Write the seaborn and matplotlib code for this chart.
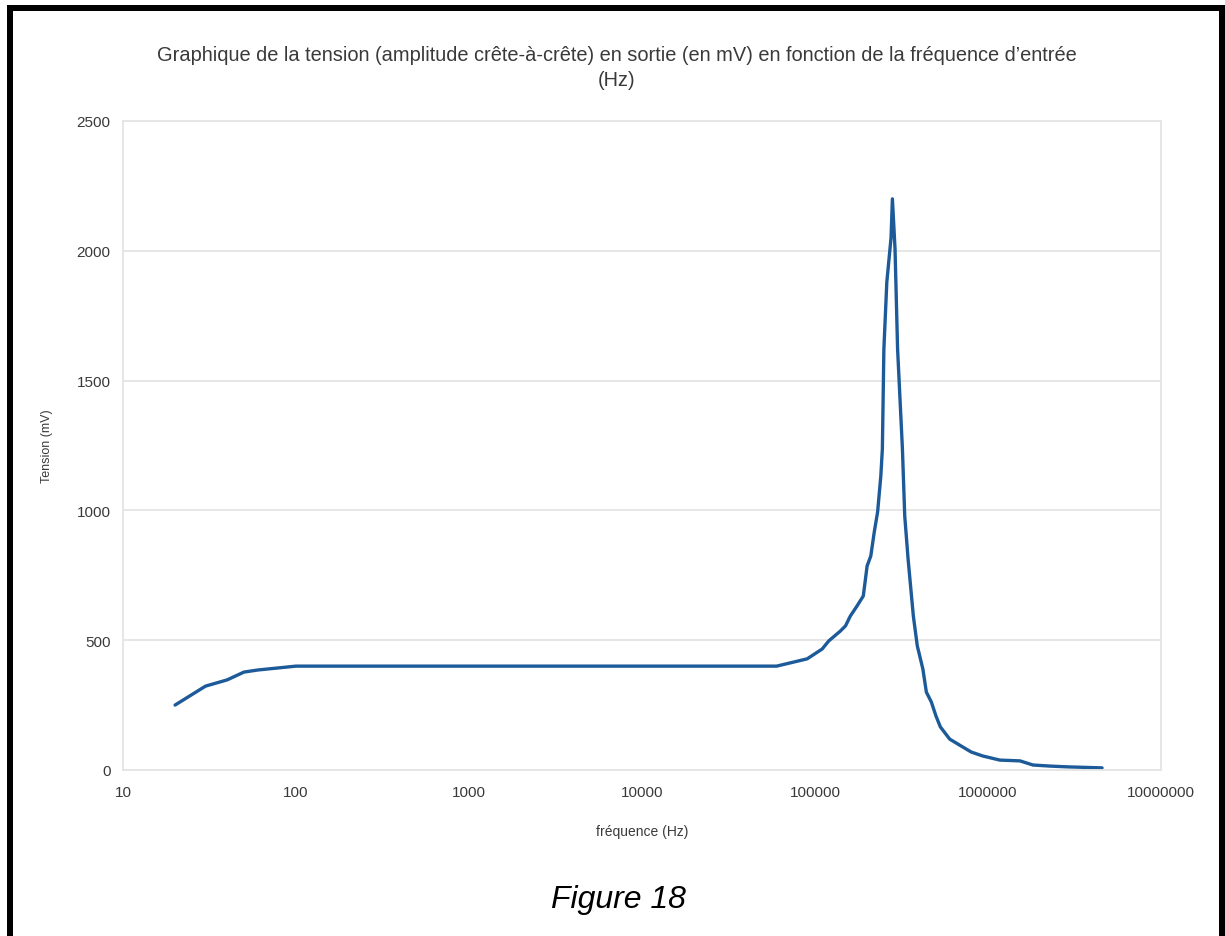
import matplotlib.pyplot as plt
import matplotlib.patches as mpatches
import seaborn as sns
import pandas as pd

frequence = [20, 30, 40, 50, 60, 100, 200, 500, 1000, 2000, 5000, 10000, 20000,
             50000, 60000, 90000, 110000, 120000, 140000, 150000, 160000, 175000,
             190000, 195000, 200000, 210000, 220000, 230000, 240000, 245000, 250000,
             260000, 275000, 280000, 290000, 300000, 320000, 330000, 345000, 370000,
             390000, 420000, 440000, 470000, 500000, 530000, 600000, 700000, 800000,
             930000, 1170000, 1530000, 1820000, 2280000, 2860000, 4560000]
tension = [250, 323, 347, 377, 385, 400, 400, 400, 400, 400, 400, 400, 400,
           400, 400, 428, 466, 497, 535, 555, 593, 632,
           670, 728, 786, 824, 917, 994, 1132, 1236, 1622,
           1880, 2050, 2200, 2007, 1622, 1236, 978, 813, 593,
           478, 389, 300, 262, 208, 166, 119, 92, 69,
           54, 38, 35, 19, 15, 12, 8]

y_ticks = [0, 500, 1000, 1500, 2000, 2500]
x_ticks = [10, 100, 1000, 10000, 100000, 1000000, 10000000]

titre = ("Graphique de la tension (amplitude crête-à-crête) en sortie (en mV) "
         "en fonction de la fréquence d’entrée\n(Hz)")

df = pd.DataFrame({"frequence": frequence, "tension": tension})

sns.set_theme(style="whitegrid")
plt.rcParams['font.family'] = ['Liberation Sans', 'DejaVu Sans']

grid_col = "#e4e4e4"
text_col = "#3a3a3a"

fig = plt.figure(figsize=(12.25, 9.37), dpi=100)
ax = fig.add_axes([0.1004, 0.1772, 0.8474, 0.6926])

sns.lineplot(x="frequence", y="tension", data=df, ax=ax,
             color="#1c5a99", linewidth=2.4, sort=False, estimator=None)

ax.set_xscale("log")
ax.set_xlim(10, 10000000)
ax.set_ylim(0, 2500)
ax.set_xticks(x_ticks)
ax.set_xticklabels([str(v) for v in x_ticks])
ax.set_yticks(y_ticks)
ax.set_yticklabels([str(v) for v in y_ticks])
ax.minorticks_off()

ax.grid(False)
ax.yaxis.grid(True, color=grid_col, linewidth=1.3)
for s in ax.spines.values():
    s.set_color(grid_col)
    s.set_linewidth(1.3)

ax.tick_params(axis="both", colors=grid_col, labelcolor=text_col,
               labelsize=11, length=5, width=1.2)
ax.tick_params(axis="x", pad=6)
ax.tick_params(axis="y", pad=4)

ax.set_xlabel("fréquence (Hz)", fontsize=10, color=text_col, labelpad=18)
ax.set_ylabel("Tension (mV)", fontsize=9, color=text_col, labelpad=17)

fig.text(0.5037, 0.9275, titre, ha="center", va="center", fontsize=14.4,
         color=text_col, linespacing=1.45)

fig.text(0.505, 0.039, "Figure 18", ha="center", va="center", fontsize=23,
         style="italic", color="black")

# black frame of the screenshot
for x0, y0, w, h in [(7/1225, 0, 6/1225, 931/937),
                     (7/1225, 925/937, 1218/1225, 6/937),
                     (1219/1225, 0, 6/1225, 931/937)]:
    fig.add_artist(mpatches.Rectangle((x0, y0), w, h, transform=fig.transFigure,
                                      facecolor="black", edgecolor="none"))

plt.savefig("out.png", dpi=100)
